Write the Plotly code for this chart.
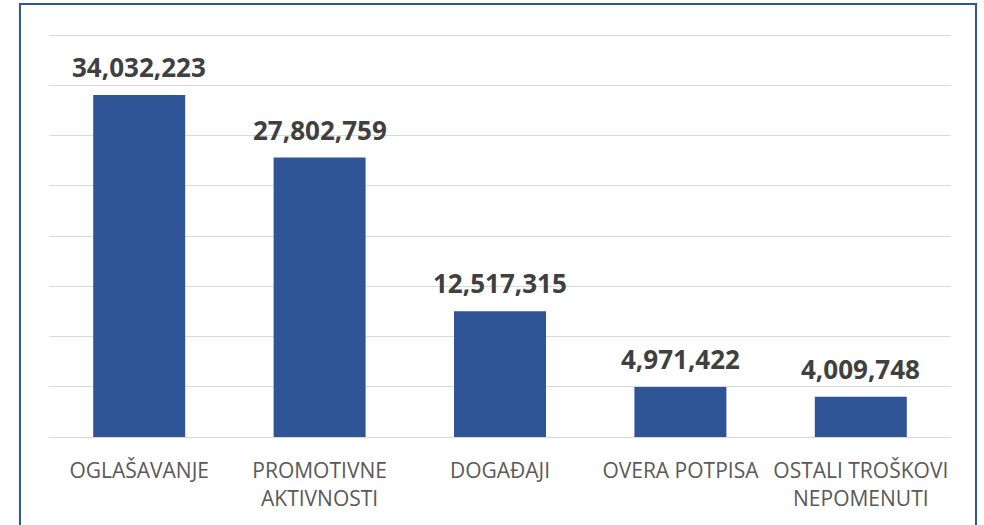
import plotly.graph_objects as go

categories = ["OGLAŠAVANJE", "PROMOTIVNE<br>AKTIVNOSTI", "DOGAĐAJI", "OVERA POTPISA", "OSTALI TROŠKOVI<br>NEPOMENUTI"]
values = [34032223, 27802759, 12517315, 4971422, 4009748]

fig = go.Figure()
fig.add_trace(go.Bar(x=categories, y=values, marker=dict(color="#2F5597", line=dict(width=0)),
                     width=0.51, hoverinfo="x+y"))

for c, v in zip(categories, values):
    fig.add_annotation(x=c, y=v, text=f"<b>{v:,}</b>", showarrow=False, yanchor="bottom",
                       yshift=8, font=dict(family="Open Sans", size=26, color="#404040"))

fig.add_shape(type="rect", xref="paper", yref="paper", x0=-0.0322, x1=1.0277, y0=-0.262, y1=1.051,
              line=dict(color="#2F5597", width=2), fillcolor="rgba(0,0,0,0)", layer="below")

fig.update_layout(
    width=984, height=525,
    margin=dict(l=49, r=33, t=25, b=88, autoexpand=False),
    paper_bgcolor="white", plot_bgcolor="white",
    showlegend=False, bargap=0.49,
    font=dict(family="Open Sans", color="#595959"),
    xaxis=dict(showgrid=False, showline=True, linecolor="#D9D9D9", linewidth=1, automargin=False,
               tickfont=dict(size=21, color="#595959"), ticks="", ticklabelstandoff=15),
    yaxis=dict(range=[0, 41000000], tick0=0, dtick=5000000, showticklabels=False, gridcolor="#D9D9D9",
               gridwidth=1, zeroline=False, showline=False),
)
fig.write_html("out.html", config={"displayModeBar": False},
               post_script="document.body.style.margin='0';document.body.style.overflow='hidden';")
